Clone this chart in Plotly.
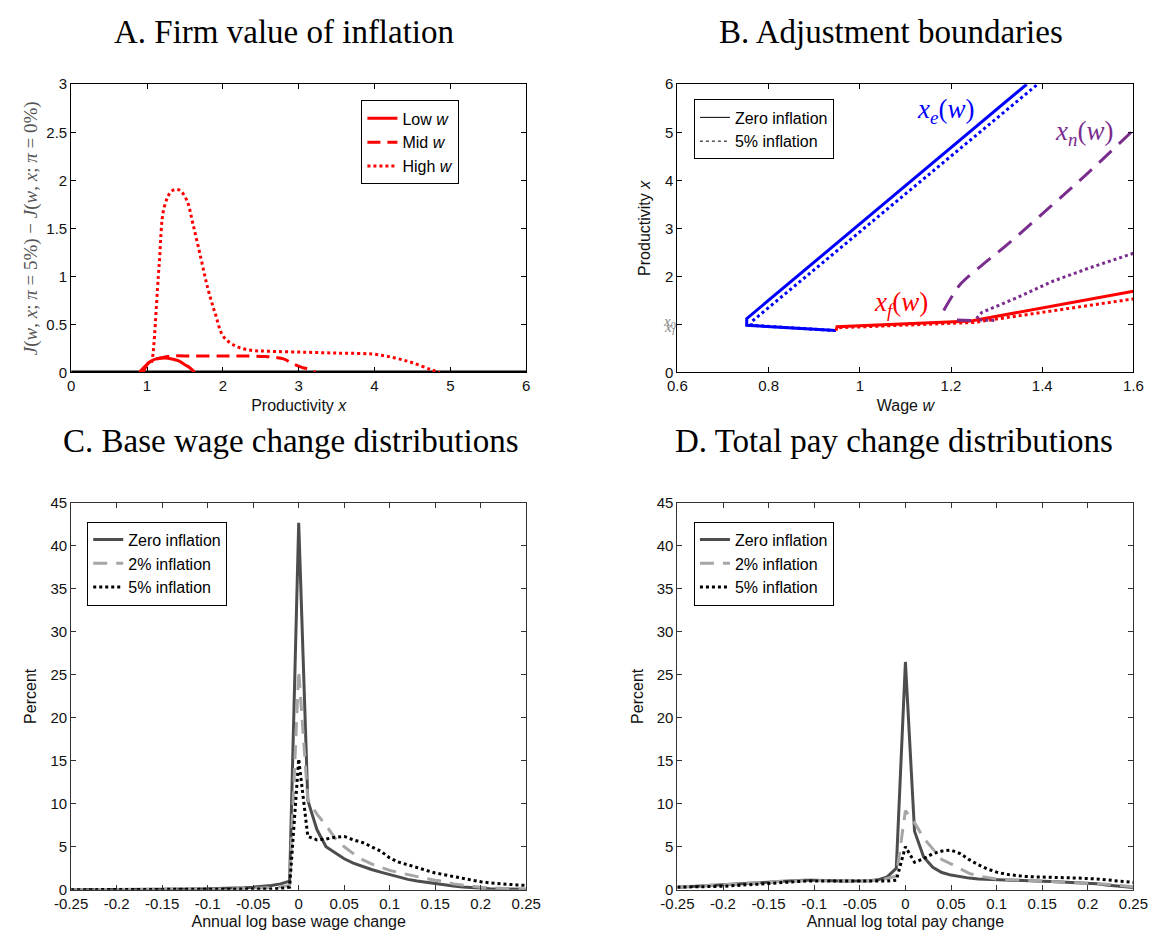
import plotly.graph_objects as go

# ---------------- Panel A data ----------------
a_zero_x = [0, 6]
a_zero_y = [0, 0]
a_low_x = [0.9, 0.97, 1.04, 1.12, 1.23, 1.33, 1.42, 1.5, 1.56, 1.63]
a_low_y = [0.0, 0.06, 0.11, 0.14, 0.15, 0.14, 0.12, 0.08, 0.05, 0.0]
a_mid_x = [0.95, 1.02, 1.1, 1.18, 1.33, 1.6, 2.0, 2.3, 2.56, 2.7, 2.8, 2.94, 3.05, 3.13, 3.22]
a_mid_y = [0.0, 0.1, 0.13, 0.15, 0.17, 0.17, 0.17, 0.17, 0.165, 0.155, 0.14, 0.085, 0.05, 0.034, 0.0]
a_high_x = [1.06, 1.08, 1.16, 1.23, 1.33, 1.42, 1.52, 1.61, 1.71, 1.8, 1.9, 2.01, 2.18, 2.37, 2.6,
            3.08, 3.55, 3.98, 4.27, 4.5, 4.74, 4.86]
a_high_y = [0.1, 0.2, 1.12, 1.73, 1.89, 1.9, 1.8, 1.53, 1.19, 0.88, 0.61, 0.37, 0.27, 0.23, 0.22,
            0.21, 0.2, 0.19, 0.15, 0.1, 0.03, 0.0]

# ---------------- Panel B data ----------------
b_xe0_w = [0.948, 0.752, 0.752, 1.366]
b_xe0_x = [0.87, 0.98, 1.12, 6.0]
b_xe5_w = [0.948, 0.762, 0.762, 1.39]
b_xe5_x = [0.87, 0.98, 1.05, 6.0]
b_xf0_w = [0.948, 0.95, 1.244, 1.6]
b_xf0_x = [0.87, 0.95, 1.07, 1.69]
b_xf5_w = [0.955, 1.25, 1.6]
b_xf5_x = [0.93, 1.04, 1.53]
b_xn0s_w = [1.213, 1.244]
b_xn0s_x = [1.09, 1.08]
b_xn0_w = [1.184, 1.2, 1.22, 1.27, 1.322, 1.419, 1.5, 1.595]
b_xn0_x = [1.29, 1.55, 1.83, 2.25, 2.65, 3.46, 4.15, 5.0]
b_xn5_w = [1.256, 1.268, 1.346, 1.424, 1.502, 1.6]
b_xn5_x = [1.12, 1.25, 1.56, 1.9, 2.17, 2.48]
b_xn5s_w = [1.262, 1.3]
b_xn5s_x = [1.09, 1.08]

# ---------------- Panels C, D data ----------------
grid = [round(-0.25 + 0.01 * i, 2) for i in range(51)]

c_zero = [0.0, 0.0, 0.0, 0.0, 0.0, 0.01, 0.01, 0.01, 0.02, 0.02,
          0.03, 0.04, 0.05, 0.06, 0.08, 0.1, 0.12, 0.15, 0.19, 0.24,
          0.3, 0.38, 0.5, 0.68, 1.0, 42.7, 10.4, 7.0, 5.0, 4.3,
          3.6, 3.1, 2.7, 2.35, 2.05, 1.75, 1.5, 1.2, 1.02, 0.86,
          0.72, 0.55, 0.42, 0.32, 0.24, 0.17, 0.12, 0.09, 0.07, 0.05,
          0.04]
c_two = [0.0, 0.0, 0.0, 0.0, 0.0, 0.0, 0.01, 0.01, 0.01, 0.02,
         0.02, 0.03, 0.03, 0.04, 0.05, 0.06, 0.07, 0.08, 0.1, 0.12,
         0.15, 0.19, 0.25, 0.35, 0.5, 25.5, 10.5, 8.8, 7.5, 6.0,
         5.0, 4.2, 3.5, 3.0, 2.6, 2.25, 2.0, 1.75, 1.5, 1.3,
         1.1, 0.95, 0.68, 0.52, 0.4, 0.3, 0.22, 0.16, 0.12, 0.08,
         0.06]
c_five = [0.0, 0.0, 0.0, 0.0, 0.0, 0.0, 0.0, 0.0, 0.01, 0.01,
          0.01, 0.01, 0.02, 0.02, 0.02, 0.03, 0.03, 0.04, 0.05, 0.06,
          0.07, 0.08, 0.1, 0.15, 0.3, 15.2, 6.2, 5.8, 5.9, 6.1,
          6.2, 5.8, 5.5, 5.0, 4.5, 3.7, 3.2, 2.9, 2.55, 2.25,
          1.95, 1.75, 1.5, 1.3, 1.1, 0.92, 0.8, 0.7, 0.62, 0.55,
          0.5]

d_zero = [0.3, 0.35, 0.4, 0.45, 0.5, 0.55, 0.6, 0.65, 0.72, 0.8,
          0.88, 0.95, 1.02, 1.08, 1.1, 1.1, 1.05, 1.02, 1.0, 1.0,
          1.0, 1.05, 1.15, 1.5, 2.5, 26.5, 6.8, 3.8, 2.6, 2.0,
          1.7, 1.5, 1.35, 1.25, 1.2, 1.2, 1.15, 1.1, 1.05, 1.0,
          0.98, 0.95, 0.9, 0.85, 0.8, 0.76, 0.7, 0.55, 0.45, 0.35,
          0.27]
d_two = [0.3, 0.35, 0.4, 0.45, 0.5, 0.55, 0.6, 0.65, 0.72, 0.8,
         0.88, 0.95, 1.0, 1.05, 1.08, 1.08, 1.05, 1.02, 1.0, 1.0,
         1.0, 1.05, 1.1, 1.3, 1.6, 9.2, 7.8, 6.0, 4.8, 3.5,
         3.0, 2.4, 1.9, 1.6, 1.4, 1.25, 1.2, 1.15, 1.1, 1.05,
         1.0, 0.98, 0.95, 0.9, 0.85, 0.8, 0.75, 0.65, 0.55, 0.45,
         0.35]
d_five = [0.3, 0.3, 0.32, 0.35, 0.38, 0.4, 0.45, 0.5, 0.58, 0.65,
          0.72, 0.8, 0.88, 0.95, 1.0, 1.0, 1.0, 1.0, 1.0, 1.0,
          1.0, 1.0, 1.0, 1.0, 1.1, 5.0, 3.2, 3.6, 4.2, 4.5,
          4.6, 4.2, 3.5, 2.9, 2.4, 2.05, 1.8, 1.65, 1.55, 1.5,
          1.45, 1.42, 1.4, 1.38, 1.35, 1.32, 1.25, 1.15, 1.05, 0.95,
          0.85]

cd_tickvals = [-0.25, -0.2, -0.15, -0.1, -0.05, 0, 0.05, 0.1, 0.15, 0.2, 0.25]
cd_ticktext = ["-0.25", "-0.2", "-0.15", "-0.1", "-0.05", "0", "0.05", "0.1", "0.15", "0.2", "0.25"]
b_yticks = [0, 1, 2, 3, 4, 5, 6]
b_yticktext = ["0", "", "2", "3", "4", "5", "6"]

titles = ["A. Firm value of inflation", "B. Adjustment boundaries",
          "C. Base wage change distributions", "D. Total pay change distributions"]

# ---------------- styling ----------------
OFF = 8                      # default page body margin
W, H = 1163 - OFF, 936 - OFF
SANS = "Liberation Sans"
SERIF = "Liberation Serif"
RED = "#ff0000"
BLUE = "#0000ff"
PURPLE = "#7b2d8e"
DGRAY = "#4d4d4d"
LGRAY = "#a6a6a6"


def px_x(p):
    return (p - OFF) / W


def px_y(p):
    return 1 - (p - OFF) / H


fig = go.Figure()

# Panel A
fig.add_trace(go.Scatter(x=a_zero_x, y=a_zero_y, mode="lines", line=dict(color="black", width=3.5),
                         showlegend=False, xaxis="x", yaxis="y"))
fig.add_trace(go.Scatter(x=a_low_x, y=a_low_y, mode="lines", name="Low <i>w</i>",
                         line=dict(color=RED, width=3, shape="spline"), legend="legend", xaxis="x", yaxis="y"))
fig.add_trace(go.Scatter(x=a_mid_x, y=a_mid_y, mode="lines", name="Mid <i>w</i>",
                         line=dict(color=RED, width=3, dash="13px,7px", shape="spline"), legend="legend",
                         xaxis="x", yaxis="y"))
fig.add_trace(go.Scatter(x=a_high_x, y=a_high_y, mode="lines", name="High <i>w</i>",
                         line=dict(color=RED, width=3, dash="dot", shape="spline"), legend="legend",
                         xaxis="x", yaxis="y"))

# Panel B
fig.add_trace(go.Scatter(x=b_xe5_w, y=b_xe5_x, mode="lines", line=dict(color=BLUE, width=3, dash="dot"),
                         showlegend=False, xaxis="x2", yaxis="y2"))
fig.add_trace(go.Scatter(x=b_xe0_w, y=b_xe0_x, mode="lines", line=dict(color=BLUE, width=3),
                         showlegend=False, xaxis="x2", yaxis="y2"))
fig.add_trace(go.Scatter(x=b_xf5_w, y=b_xf5_x, mode="lines", line=dict(color=RED, width=3, dash="dot"),
                         showlegend=False, xaxis="x2", yaxis="y2"))
fig.add_trace(go.Scatter(x=b_xf0_w, y=b_xf0_x, mode="lines", line=dict(color=RED, width=3),
                         showlegend=False, xaxis="x2", yaxis="y2"))
fig.add_trace(go.Scatter(x=b_xn0s_w, y=b_xn0s_x, mode="lines", line=dict(color=PURPLE, width=3),
                         showlegend=False, xaxis="x2", yaxis="y2"))
fig.add_trace(go.Scatter(x=b_xn0_w, y=b_xn0_x, mode="lines",
                         line=dict(color=PURPLE, width=3, dash="17px,10px", shape="spline"),
                         showlegend=False, xaxis="x2", yaxis="y2"))
fig.add_trace(go.Scatter(x=b_xn5_w, y=b_xn5_x, mode="lines", line=dict(color=PURPLE, width=3, dash="dot"),
                         showlegend=False, xaxis="x2", yaxis="y2"))
fig.add_trace(go.Scatter(x=b_xn5s_w, y=b_xn5s_x, mode="lines", line=dict(color=PURPLE, width=3, dash="dot"),
                         showlegend=False, xaxis="x2", yaxis="y2"))
fig.add_trace(go.Scatter(x=[None], y=[None], mode="lines", name="Zero inflation",
                         line=dict(color="black", width=1), legend="legend2", xaxis="x2", yaxis="y2"))
fig.add_trace(go.Scatter(x=[None], y=[None], mode="lines", name="5% inflation",
                         line=dict(color="black", width=1, dash="dot"), legend="legend2", xaxis="x2", yaxis="y2"))

# Panels C and D
for (xa, ya, lg, z, t, f) in [("x3", "y3", "legend3", c_zero, c_two, c_five),
                              ("x4", "y4", "legend4", d_zero, d_two, d_five)]:
    fig.add_trace(go.Scatter(x=grid, y=z, mode="lines", name="Zero inflation",
                             line=dict(color=DGRAY, width=3), legend=lg, xaxis=xa, yaxis=ya))
    fig.add_trace(go.Scatter(x=grid, y=t, mode="lines", name="2% inflation",
                             line=dict(color=LGRAY, width=3, dash="14px,9px"), legend=lg, xaxis=xa, yaxis=ya))
    fig.add_trace(go.Scatter(x=grid, y=f, mode="lines", name="5% inflation",
                             line=dict(color="black", width=3, dash="dot"), legend=lg, xaxis=xa, yaxis=ya))


def axis(domain, rng, anchor, linecolor="black", **kw):
    d = dict(domain=domain, range=rng, anchor=anchor, showline=True, mirror="ticks", ticks="inside",
             ticklen=5, tickcolor=linecolor, linecolor=linecolor, linewidth=1, showgrid=False,
             zeroline=False, tickfont=dict(family=SANS, size=15, color="#111"))
    d.update(kw)
    return d


A_X = [px_x(55.5), px_x(523.5)]
B_X = [px_x(679), px_x(1148)]
TOP_Y = [px_y(370), px_y(76.5)]
BOT_Y = [px_y(897), px_y(503)]

lab_font = dict(family=SANS, size=16, color="#111")

layout = dict(
    width=W, height=H, margin=dict(l=0, r=0, t=0, b=0),
    paper_bgcolor="white", plot_bgcolor="white",
    xaxis=axis(A_X, [0, 6], "y", dtick=1,
               title=dict(text="Productivity <i>x</i>", font=lab_font, standoff=6)),
    yaxis=axis(TOP_Y, [0, 3], "x", dtick=0.5,
               title=dict(text="<i>J</i>(<i>w</i>, <i>x</i>; <i>π</i> = 5%) − <i>J</i>(<i>w</i>, <i>x</i>; <i>π</i> = 0%)",
                          font=dict(family=SERIF, size=19, color="#555"), standoff=3)),
    xaxis2=axis(B_X, [0.6, 1.6], "y2", dtick=0.2,
                title=dict(text="Wage <i>w</i>", font=lab_font, standoff=6)),
    yaxis2=axis(TOP_Y, [0, 6], "x2", tickvals=b_yticks, ticktext=b_yticktext,
                title=dict(text="Productivity <i>x</i>", font=lab_font, standoff=10)),
    xaxis3=axis(A_X, [-0.25, 0.25], "y3", linecolor="#333", tickvals=cd_tickvals, ticktext=cd_ticktext,
                title=dict(text="Annual log base wage change", font=lab_font, standoff=5)),
    yaxis3=axis(BOT_Y, [0, 45], "x3", linecolor="#333", dtick=5,
                title=dict(text="Percent", font=lab_font, standoff=9)),
    xaxis4=axis(B_X, [-0.25, 0.25], "y4", linecolor="#333", tickvals=cd_tickvals, ticktext=cd_ticktext,
                title=dict(text="Annual log total pay change", font=lab_font, standoff=5)),
    yaxis4=axis(BOT_Y, [0, 45], "x4", linecolor="#333", dtick=5,
                title=dict(text="Percent", font=lab_font, standoff=9)),
)

leg_common = dict(bgcolor="white", bordercolor="black", borderwidth=1, xanchor="left", yanchor="top",
                  font=dict(family=SANS, size=16, color="black"), tracegroupgap=0, itemwidth=30)
layout["legend"] = dict(leg_common, x=px_x(354), y=px_y(93))
layout["legend2"] = dict(leg_common, x=px_x(696), y=px_y(92))
layout["legend3"] = dict(leg_common, x=px_x(72), y=px_y(522))
layout["legend4"] = dict(leg_common, x=px_x(696), y=px_y(522))

fig.update_layout(**layout)

# Panel titles
title_pos = [(px_x(274), px_y(23)), (px_x(899), px_y(23)),
             (px_x(282), px_y(440)), (px_x(902), px_y(440))]
for txt, (tx, ty) in zip(titles, title_pos):
    fig.add_annotation(text=txt, x=tx, y=ty, xref="paper", yref="paper", showarrow=False,
                       xanchor="center", yanchor="middle",
                       font=dict(family=SERIF, size=33, color="black"))

# Boundary labels in panel B
math_font = dict(family=SERIF, size=27)
fig.add_annotation(text="<i>x<sub>e</sub></i>(<i>w</i>)", x=1.188, y=5.45, xref="x2", yref="y2",
                   showarrow=False, font=dict(math_font, color=BLUE))
fig.add_annotation(text="<i>x<sub>n</sub></i>(<i>w</i>)", x=1.491, y=4.98, xref="x2", yref="y2",
                   showarrow=False, font=dict(math_font, color=PURPLE))
fig.add_annotation(text="<i>x<sub>f</sub></i>(<i>w</i>)", x=1.09, y=1.42, xref="x2", yref="y2",
                   showarrow=False, font=dict(math_font, color=RED))
fig.add_annotation(text="<i>x</i><sub>0</sub>", x=px_x(671), y=px_y(319), xref="paper", yref="paper",
                   showarrow=False, xanchor="center", yanchor="middle",
                   font=dict(family=SERIF, size=15, color="#888"))
fig.add_annotation(text="<i>x<sub>l</sub></i>", x=px_x(671), y=px_y(325), xref="paper", yref="paper",
                   showarrow=False, xanchor="center", yanchor="middle",
                   font=dict(family=SERIF, size=15, color="#888"))

fig.write_html("out.html")
